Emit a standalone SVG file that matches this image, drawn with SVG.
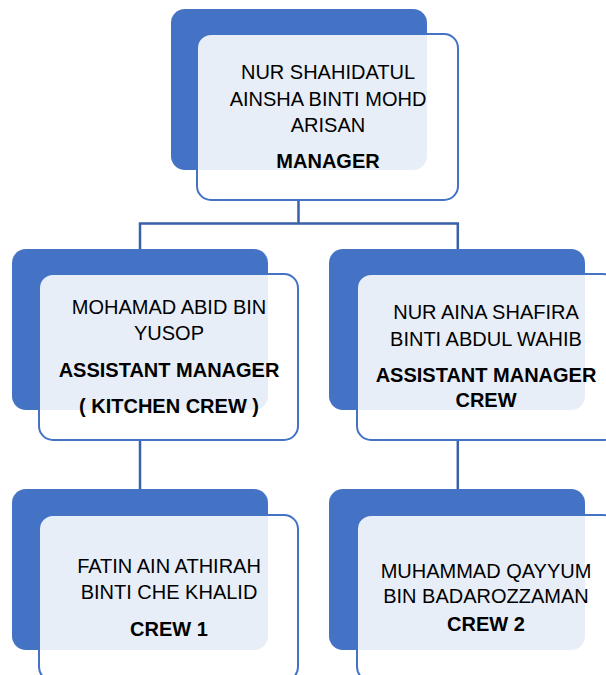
<svg xmlns="http://www.w3.org/2000/svg" width="606" height="675" viewBox="0 0 606 675">
<style>
.back{fill:#4472C4}
.front{fill:#FFFFFF;fill-opacity:0.88;stroke:#4472C4;stroke-width:2}
.conn{fill:none;stroke:#3A60A8;stroke-width:2.5}
text{font-family:"Liberation Sans",Arial,sans-serif;font-size:20px;fill:#000;text-anchor:middle}
.b{font-weight:bold}
</style>
<rect width="606" height="675" fill="#FFFFFF"/>
<g id="connectors">
<path class="conn" d="M298.5 200 V223.5 M140 223.5 H457.8 M140 222.3 V250 M457.8 222.3 V250"/>
<path class="conn" d="M140 440 V490"/>
<path class="conn" d="M457.8 440 V490"/>
</g>
<g id="node-manager">
<rect class="back" x="171" y="9" width="256" height="161" rx="14"/>
<rect class="front" x="197" y="34" width="261" height="166" rx="14"/>
<text x="328" y="79">NUR SHAHIDATUL</text>
<text x="328" y="106">AINSHA BINTI MOHD</text>
<text x="328" y="132">ARISAN</text>
<text class="b" x="328" y="168">MANAGER</text>
</g>
<g id="node-asst-kitchen">
<rect class="back" x="12" y="249" width="256" height="161" rx="14"/>
<rect class="front" x="39" y="274" width="259" height="166" rx="14"/>
<text x="169" y="314">MOHAMAD ABID BIN</text>
<text x="169" y="340">YUSOP</text>
<text class="b" x="169" y="377">ASSISTANT MANAGER</text>
<text class="b" x="169" y="413">( KITCHEN CREW )</text>
</g>
<g id="node-asst-crew">
<rect class="back" x="329" y="249" width="256" height="161" rx="14"/>
<rect class="front" x="357" y="274" width="260" height="166" rx="14"/>
<text x="486" y="319">NUR AINA SHAFIRA</text>
<text x="486" y="346">BINTI ABDUL WAHIB</text>
<text class="b" x="486" y="382">ASSISTANT MANAGER</text>
<text class="b" x="486" y="407">CREW</text>
</g>
<g id="node-crew1">
<rect class="back" x="12" y="489" width="256" height="161" rx="14"/>
<rect class="front" x="39" y="515" width="259" height="166" rx="14"/>
<text x="169" y="573">FATIN AIN ATHIRAH</text>
<text x="169" y="599">BINTI CHE KHALID</text>
<text class="b" x="169" y="636">CREW 1</text>
</g>
<g id="node-crew2">
<rect class="back" x="329" y="489" width="256" height="161" rx="14"/>
<rect class="front" x="357" y="515" width="260" height="166" rx="14"/>
<text x="486" y="578">MUHAMMAD QAYYUM</text>
<text x="486" y="603">BIN BADAROZZAMAN</text>
<text class="b" x="486" y="631">CREW 2</text>
</g>
</svg>
